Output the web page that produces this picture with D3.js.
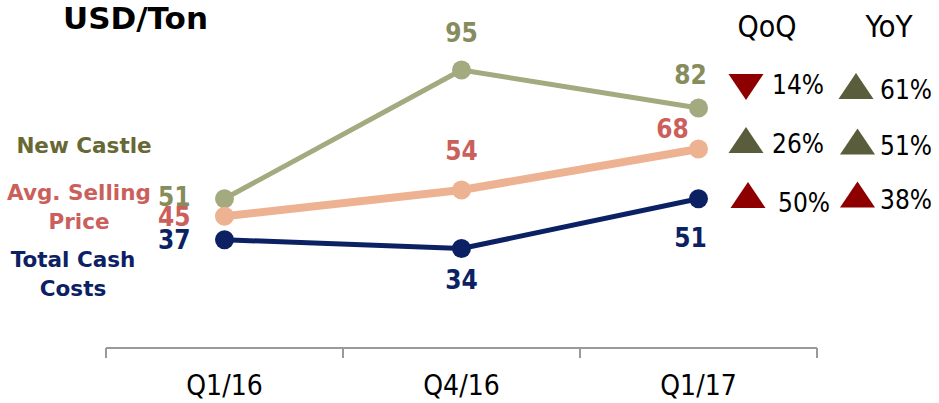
<!DOCTYPE html>
<html>
<head>
<meta charset="utf-8">
<script src="https://cdn.jsdelivr.net/npm/d3@7"></script>
<style>
  html, body { margin: 0; padding: 0; background: #fff; }
  svg { display: block; font-family: "DejaVu Sans Condensed", "DejaVu Sans", sans-serif; }
  .wide { font-family: "DejaVu Sans", sans-serif; }
</style>
</head>
<body>
<svg id="chart" width="939" height="403"></svg>
<script>
// Quarters on the x axis
const quarters = ["Q1/16", "Q4/16", "Q1/17"];

// USD per ton by series
const seriesNames = ["New Castle", "Avg. Selling Price", "Total Cash Costs"];
const newCastle = [51, 95, 82];
const avgSellingPrice = [45, 54, 68];
const totalCashCosts = [37, 34, 51];

// Latest-quarter change, percent
const qoqChange = [-14, 26, 50];
const yoyChange = [61, 51, 38];
// For costs a rise is unfavourable
const higherIsBetter = [true, true, false];

const svg = d3.select("#chart");

const x = d3.scaleBand().domain(quarters).range([106, 817]).padding(0);
const y = d3.scaleLinear().domain([0, 95]).range([348, 70]);
const cx = q => x(q) + x.bandwidth() / 2;

const styles = [
  { line: "#A3AA7F", width: 5, label: "#868C5C", name: "#676833" },
  { line: "#EDB291", width: 8, label: "#CB5F5C", name: "#CB5F5C" },
  { line: "#0B2163", width: 5, label: "#0B2163", name: "#0B2163" }
];
const values = [newCastle, avgSellingPrice, totalCashCosts];

// Title
svg.append("text").attr("class", "wide").attr("x", 63).attr("y", 29)
  .attr("font-size", 31).attr("font-weight", "bold").attr("fill", "#000")
  .text("USD/Ton");

// Axis: baseline with ticks on band boundaries
const axis = svg.append("g").attr("stroke", "#9a9a9a").attr("stroke-width", 2).attr("fill", "none");
axis.append("line").attr("x1", x.range()[0]).attr("x2", x.range()[1])
  .attr("y1", y(0)).attr("y2", y(0));
const bounds = quarters.map(q => x(q)).concat([x.range()[1]]);
axis.selectAll("line.tick").data(bounds).join("line").attr("class", "tick")
  .attr("x1", d => d).attr("x2", d => d).attr("y1", y(0)).attr("y2", y(0) + 10);

svg.append("g").selectAll("text").data(quarters).join("text")
  .attr("x", d => cx(d)).attr("y", 395).attr("text-anchor", "middle")
  .attr("font-size", 28).attr("fill", "#000").text(d => d);

// Lines and markers
const line = d3.line().x((d, i) => cx(quarters[i])).y(d => y(d));
values.forEach((vals, s) => {
  const g = svg.append("g");
  g.append("path").datum(vals).attr("d", line).attr("fill", "none")
    .attr("stroke", styles[s].line).attr("stroke-width", styles[s].width)
    .attr("stroke-linejoin", "round");
  g.selectAll("circle").data(vals).join("circle")
    .attr("cx", (d, i) => cx(quarters[i])).attr("cy", d => y(d)).attr("r", 9.5)
    .attr("fill", styles[s].line);
});

// Value labels: offsets (dx, dy, anchor) per series and quarter
const labelPos = [
  [[-34, 7, "end"], [0, -28, "middle"], [-8, -24, "middle"]],
  [[-34, 10, "end"], [0, -30, "middle"], [-26, -11, "middle"]],
  [[-34, 9, "end"], [0, 40, "middle"], [-8, 48, "middle"]]
];
values.forEach((vals, s) => {
  svg.append("g").selectAll("text").data(vals).join("text")
    .attr("x", (d, i) => cx(quarters[i]) + labelPos[s][i][0])
    .attr("y", (d, i) => y(d) + labelPos[s][i][1])
    .attr("text-anchor", (d, i) => labelPos[s][i][2])
    .attr("font-size", 26).attr("font-weight", "bold").attr("fill", styles[s].label)
    .text(d => d);
});

// Series names on the left
const nameLines = [["New Castle"], ["Avg. Selling", "Price"], ["Total Cash", "Costs"]];
const nameCenter = [84, 79, 73];
const nameBase = [153, 200, 267];
nameLines.forEach((lines, s) => {
  svg.append("text").attr("class", "wide").attr("text-anchor", "middle").attr("font-size", 21.5)
    .attr("font-weight", "bold").attr("fill", styles[s].name)
    .selectAll("tspan").data(lines).join("tspan")
    .attr("x", nameCenter[s]).attr("y", (d, i) => nameBase[s] + i * 28.5).text(d => d);
});

// Change table
svg.append("text").attr("x", 767).attr("y", 37).attr("text-anchor", "middle")
  .attr("font-size", 30).attr("fill", "#000").text("QoQ");
svg.append("text").attr("x", 889).attr("y", 37).attr("text-anchor", "middle")
  .attr("font-size", 31).attr("fill", "#000").text("YoY");

const good = "#5A5D3B", bad = "#8E0000";
function marker(g, cxp, cyp, change, s) {
  const up = change > 0;
  const fav = up === higherIsBetter[s];
  const w = 17.5, h = 13;
  const pts = up
    ? [[cxp - w, cyp + h], [cxp + w, cyp + h], [cxp, cyp - h]]
    : [[cxp - w, cyp - h], [cxp + w, cyp - h], [cxp, cyp + h]];
  g.append("path").attr("d", "M" + pts.join("L") + "Z").attr("fill", fav ? good : bad);
}
const table = svg.append("g");
const pct = d => Math.abs(d) + "%";
// Row layout: marker centres and text baselines
const qoqMark = [[746, 87], [746, 140], [748, 195]];
const qoqText = [[772, 94], [772, 153], [778, 212]];
const yoyMark = [[856, 86], [857.5, 141.5], [857.5, 194.5]];
const yoyText = [[880, 99], [880, 155], [880, 209]];
qoqChange.forEach((c, s) => {
  marker(table, qoqMark[s][0], qoqMark[s][1], c, s);
  table.append("text").attr("x", qoqText[s][0]).attr("y", qoqText[s][1])
    .attr("font-size", 26).attr("fill", "#000").text(pct(c));
});
yoyChange.forEach((c, s) => {
  marker(table, yoyMark[s][0], yoyMark[s][1], c, s);
  table.append("text").attr("x", yoyText[s][0]).attr("y", yoyText[s][1])
    .attr("font-size", 26).attr("fill", "#000").text(pct(c));
});
</script>
</body>
</html>
